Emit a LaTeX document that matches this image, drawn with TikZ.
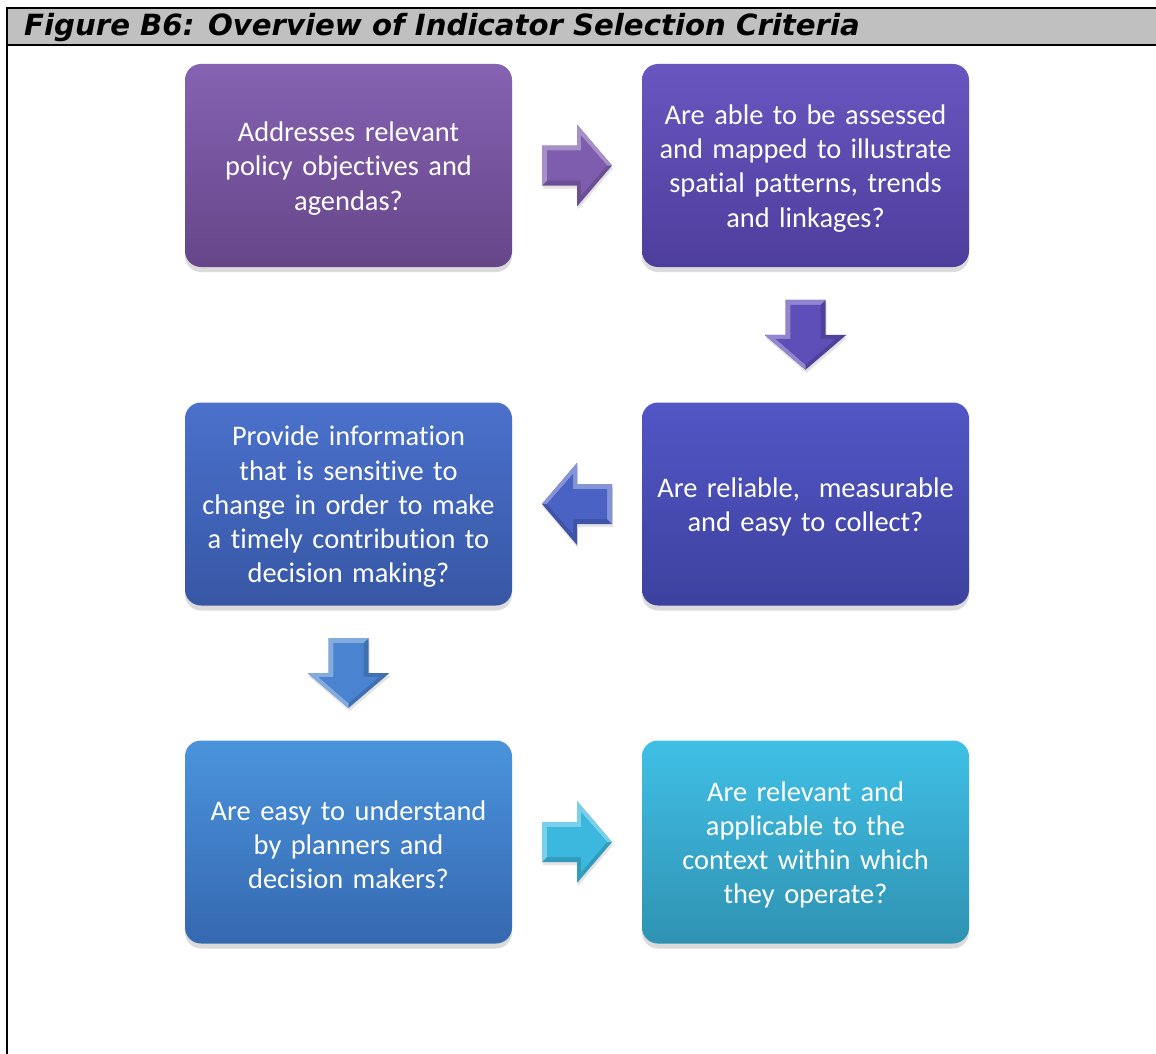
\documentclass[tikz,border=0pt]{standalone}
\usepackage{fontspec}
\setmainfont{Carlito}[Ligatures=NoCommon]
\newfontfamily\titlefont{DejaVu Sans}
\usetikzlibrary{shadows,calc}
\definecolor{c1t}{HTML}{8662B2}\definecolor{c1b}{HTML}{664689}
\definecolor{c2t}{HTML}{6956C0}\definecolor{c2b}{HTML}{4E3E9C}
\definecolor{c3t}{HTML}{5256C6}\definecolor{c3b}{HTML}{3D419E}
\definecolor{c4t}{HTML}{4B71CC}\definecolor{c4b}{HTML}{3757A5}
\definecolor{c5t}{HTML}{4A94DC}\definecolor{c5b}{HTML}{3568B0}
\definecolor{c6t}{HTML}{40C0E6}\definecolor{c6b}{HTML}{2F92B2}
\definecolor{a1c}{HTML}{7E5CAE}\definecolor{a2c}{HTML}{5E4EB8}
\definecolor{a3c}{HTML}{4A62C4}\definecolor{a4c}{HTML}{4A84D0}
\definecolor{a5c}{HTML}{3CB8DE}
\definecolor{titlegray}{HTML}{C0C0C0}
\tikzset{
  box/.style={rounded corners=16pt, minimum width=327pt, minimum height=203pt,
    text width=310pt, align=center, text=white, inner sep=0pt,
    font=\fontsize{28.4}{34.3}\selectfont,
    execute at begin node={\rule{0pt}{25.5pt}},
    drop shadow={opacity=0.28, shadow xshift=0pt, shadow yshift=-5pt}},
  pics/blockarrow/.style={code={
    \fill[#1!85!black, drop shadow={opacity=0.22, shadow xshift=1pt, shadow yshift=-3pt}]
      (-35,-20) -- (0,-20) -- (0,-41) -- (35,0) -- (0,41) -- (0,20) -- (-35,20) -- cycle;
    \fill[#1!68!white]
      (-35,-20) -- (0,-20) -- (0,-41) -- (35,0) -- (30,0) -- (4,-30) -- (4,-15) -- (-30,-15) -- (-30,15) -- (-35,20) -- cycle;
    \fill[#1]
      (-30,-15) -- (4,-15) -- (4,-30) -- (30,0) -- (4,30) -- (4,15) -- (-30,15) -- cycle;
  }},
}
\begin{document}
\begin{tikzpicture}[x=1pt,y=-1pt]
\useasboundingbox (0,0) rectangle (1156,1054);
\fill[white] (0,0) rectangle (1156,1054);
% title
\fill[titlegray] (7,8) rectangle (1156,45);
\draw[line width=2.2pt] (7,1054) -- (7,8) -- (1156,8);
\draw[line width=2.2pt] (7,45) -- (1156,45);
\node[anchor=base west, inner sep=0pt, font=\titlefont\bfseries\itshape\fontsize{29.2}{32}\selectfont] (title) at (24,36) {Figure B6: Overview of Indicator Selection Criteria};
% boxes
\node[box, top color=c1t, bottom color=c1b] (b1) at (348.5,165.5) {Addresses relevant\\policy objectives and\\agendas?};
\node[box, top color=c2t, bottom color=c2b] (b2) at (805.5,165.5) {Are able to be assessed\\and mapped to illustrate\\spatial patterns, trends\\and linkages?};
\node[box, top color=c3t, bottom color=c3b] (b3) at (805.5,504) {Are reliable,\ \ measurable\\and easy to collect?};
\node[box, top color=c4t, bottom color=c4b] (b4) at (348.5,504) {Provide information\\that is sensitive to\\change in order to make\\a timely contribution to\\decision making?};
\node[box, top color=c5t, bottom color=c5b] (b5) at (348.5,842) {Are easy to understand\\by planners and\\decision makers?};
\node[box, top color=c6t, bottom color=c6b] (b6) at (805.5,842) {Are relevant and\\applicable to the\\context within which\\they operate?};
% arrows between boxes
\coordinate (a1) at ($(b1.east)!0.5!(b2.west)$);
\coordinate (a2) at ($(b2.south)!0.5!(b3.north)$);
\coordinate (a3) at ($(b3.west)!0.5!(b4.east)$);
\coordinate (a4) at ($(b4.south)!0.5!(b5.north)$);
\coordinate (a5) at ($(b5.east)!0.5!(b6.west)$);
\pic at (a1) {blockarrow=a1c};
\pic[rotate=-90, yscale=-1] at (a2) {blockarrow=a2c};
\pic[xscale=-1] at (a3) {blockarrow=a3c};
\pic[rotate=-90, yscale=-1] at (a4) {blockarrow=a4c};
\pic at (a5) {blockarrow=a5c};
\end{tikzpicture}
\end{document}
